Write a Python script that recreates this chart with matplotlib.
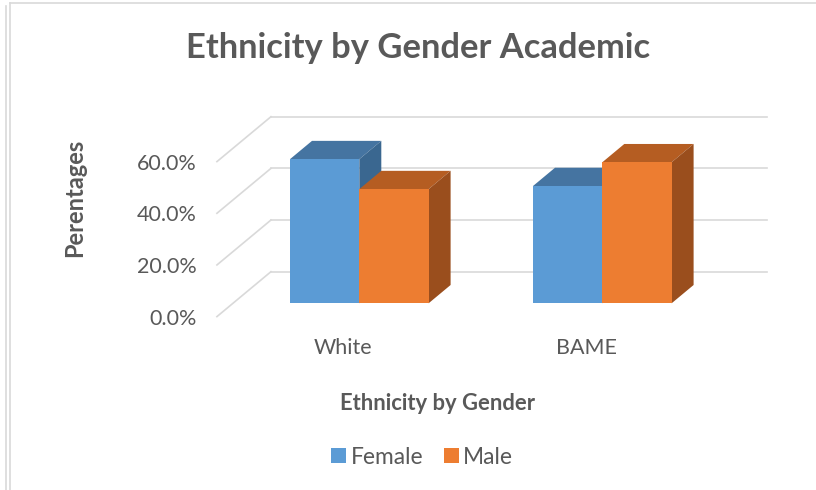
import numpy as np
import matplotlib.pyplot as plt
from matplotlib.patches import Polygon
from matplotlib.lines import Line2D

plt.rcParams['font.family'] = ['Lato', 'DejaVu Sans']

# data
categories = ["White", "BAME"]
female = [55.8, 45.4]
male = [44.2, 54.6]
yticks = [0, 20, 40, 60]

TXT = "#595959"
GRID = "#D9D9D9"
F_COLS = ("#5B9BD5", "#4574A1", "#3A6790")   # front, top, side
M_COLS = ("#ED7D31", "#B55D22", "#9A4E1D")

W, H = 816, 490
fig = plt.figure(figsize=(W / 100, H / 100), dpi=100)
ax = fig.add_axes([0, 0, 1, 1])
ax.axis("off")

# the axes spans the whole figure; data plane = plane of the bar fronts
x0_px, step_px = 359.3, 243.0      # px of category 0, px per category
base_px, pct_px = 303.3, 2.583     # px (from top) of 0%, px per percent
ax.set_xlim(-x0_px / step_px, (W - x0_px) / step_px)
ax.set_ylim(-(H - base_px) / pct_px, base_px / pct_px)


def off(px_x, px_y):
    # pixel offset -> data offset
    return px_x / step_px, px_y / pct_px


bdx, bdy = off(22, 18.3)     # bar depth
wdx, wdy = off(38, 31.6)     # to back wall
fdx, fdy = off(-16, -13.3)   # to front floor edge
xl, xr = -0.52, 1.52         # wall extent

# walls
for t in yticks:
    ax.plot([xl + wdx, xr + wdx], [t + wdy, t + wdy], color=GRID, lw=1.2, zorder=1)
    ax.plot([xl + fdx, xl + wdx], [t + fdy, t + wdy], color=GRID, lw=1.2, zorder=1)
    ax.text(xl + fdx - 20 / step_px, t + fdy - 2 / pct_px, f"{t:.1f}%",
            ha="right", va="center", fontsize=15.5, color=TXT)

# bars
x = np.arange(len(categories))
bw = 69.3 / step_px


def faces(xc, h, cols, z):
    l, r = xc - bw / 2, xc + bw / 2
    top = Polygon([(l, h), (r, h), (r + bdx, h + bdy), (l + bdx, h + bdy)],
                  closed=True, fc=cols[1], ec="none", zorder=z)
    side = Polygon([(r, 0), (r + bdx, bdy), (r + bdx, h + bdy), (r, h)],
                   closed=True, fc=cols[2], ec="none", zorder=z)
    ax.add_patch(top)
    ax.add_patch(side)


fb = ax.bar(x - bw / 2, female, width=bw, color=F_COLS[0], label="Female")
mb = ax.bar(x + bw / 2, male, width=bw, color=M_COLS[0], label="Male")
for i in range(len(categories)):
    fb[i].set_zorder(10 * i + 2)
    mb[i].set_zorder(10 * i + 4)
    faces(x[i] - bw / 2, female[i], F_COLS, 10 * i + 1)
    faces(x[i] + bw / 2, male[i], M_COLS, 10 * i + 3)

for i, c in enumerate(categories):
    ax.text(x[i] + fdx, fdy - 31.4 / pct_px, c, ha="center", va="center",
            fontsize=15.5, color=TXT)

fig.text(418 / W, 1 - 48 / H, "Ethnicity by Gender Academic", ha="center", va="center",
         fontsize=24.8, fontweight="bold", color=TXT)
fig.text(438 / W, 1 - 403 / H, "Ethnicity by Gender", ha="center", va="center",
         fontsize=15.8, fontweight="bold", color=TXT)
fig.text(75 / W, 1 - 198 / H, "Perentages", ha="center", va="center", rotation=90,
         fontsize=17, fontweight="bold", color=TXT)

fig.legend(handles=[fb, mb], labels=["Female", "Male"], loc="center",
           bbox_to_anchor=(422 / W, 1 - 457 / H), ncol=2, frameon=False,
           fontsize=16.4, handlelength=0.66, handleheight=0.66, handletextpad=0.2,
           columnspacing=0.9, labelcolor=TXT)

# chart border lines
for xs, ys in [([9.5, 9.5], [3.5, H]), ([6, 6], [6, H]), ([9.5, W], [3.5, 3.5])]:
    fig.add_artist(Line2D([v / W for v in xs], [1 - v / H for v in ys],
                          transform=fig.transFigure, color=GRID, lw=1.2))

fig.savefig("out.png", dpi=100)
